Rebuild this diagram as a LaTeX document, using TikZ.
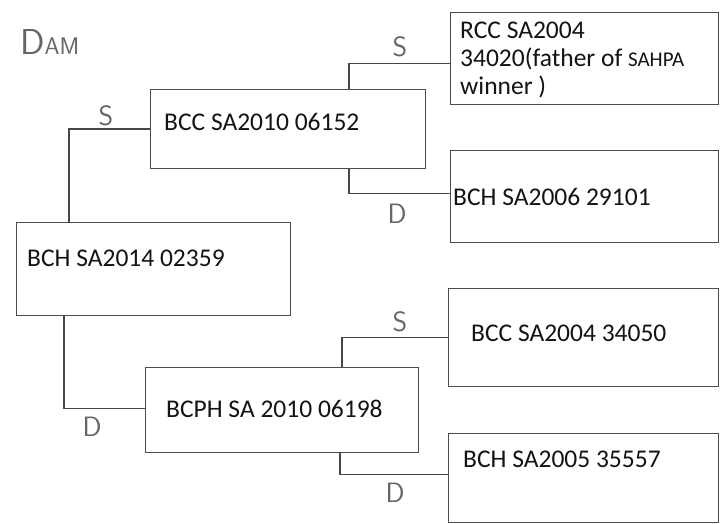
\documentclass[tikz,border=0pt]{standalone}
\usepackage{fontspec}
\setmainfont{Carlito}
\begin{document}
\begin{tikzpicture}[x=1pt,y=-1pt,
  box/.style={draw=black!70,line width=1.1pt,rectangle,anchor=north west,inner sep=0pt},
  txt/.style={anchor=west,inner sep=0pt,text=black!92,font=\fontsize{25.5}{28}\selectfont,align=left},
  hand/.style={inner sep=0pt,text=black!60,font=\sffamily\fontsize{28}{28}\selectfont},
  link/.style={draw=black!72,line width=1.1pt}]
\useasboundingbox[fill=white] (0,0) rectangle (720,524);
% boxes
\node[box,minimum width=274pt,minimum height=93pt] (root) at (16,222) {};
\node[box,minimum width=275pt,minimum height=79pt] (sA) at (150,89) {};
\node[box,minimum width=273pt,minimum height=85pt] (dB) at (145,367) {};
\node[box,minimum width=268pt,minimum height=92pt] (rcc) at (450,12) {};
\node[box,minimum width=268pt,minimum height=92pt] (b06) at (450,150) {};
\node[box,minimum width=270pt,minimum height=98pt] (c04) at (448,288) {};
\node[box,minimum width=270pt,minimum height=89pt] (h05) at (448,433) {};
% texts
\node[txt] (trcc) at (460,60) {RCC SA2004\\34020(father of {\fontsize{21}{28}\selectfont SAHPA}\\winner )};
\node[txt] (tsA) at (164,122) {BCC SA2010 06152};
\node[txt] (troot) at (27,258) {BCH SA2014 02359};
\node[txt] (tb06) at (453,197) {BCH SA2006 29101};
\node[txt] (tc04) at (471,333) {BCC SA2004 34050};
\node[txt] (tdB) at (166,409) {BCPH SA 2010 06198};
\node[txt] (th05) at (463,459) {BCH SA2005 35557};
% connectors
\draw[link] (root.north west) ++(53,0) |- (sA.west);
\draw[link] (root.south west) ++(48,0) |- ([yshift=2pt]dB.west);
\draw[link] (sA.north west) ++(199,0) |- ([yshift=-5pt]rcc.west);
\draw[link] (sA.south west) ++(199,0) |- ([yshift=3pt]b06.west);
\draw[link] (dB.north west) ++(197,0) |- (c04.west);
\draw[link] (dB.south west) ++(195,0) |- ([yshift=4pt]h05.west);
% hand labels
\node[hand,anchor=west] (dam) at (20,42) {{\fontsize{36}{36}\selectfont D}{\fontsize{24}{24}\selectfont AM}};
\node[hand] (s1) at (106,116) {S};
\node[hand] (d1) at (92,427) {D};
\node[hand] (s2) at (400,47) {S};
\node[hand] (d2) at (397,214) {D};
\node[hand] (s3) at (400,322) {S};
\node[hand] (d3) at (395,493) {D};
\end{tikzpicture}
\end{document}
